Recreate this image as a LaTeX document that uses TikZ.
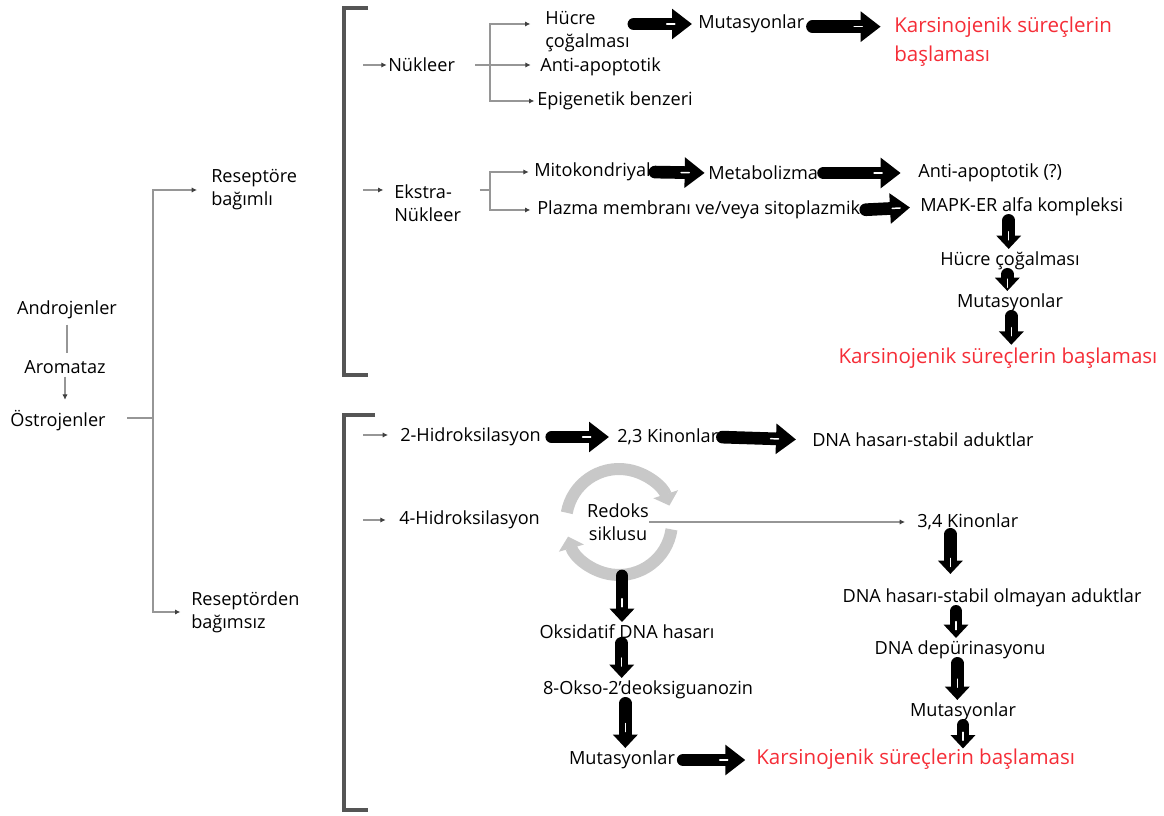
\documentclass[tikz,border=0pt]{standalone}
\usepackage{fontspec}
\setmainfont{Open Sans}
\usetikzlibrary{arrows.meta,calc,decorations.markings}
\definecolor{redtxt}{RGB}{245,45,55}
\definecolor{treeg}{RGB}{150,150,150}
\definecolor{brk}{RGB}{85,85,85}
\definecolor{ringg}{RGB}{200,200,200}
\begin{document}
\begin{tikzpicture}[x=0.75pt,y=-0.75pt,
  txt/.style={font=\fontsize{13.6}{17.25}\selectfont, inner sep=0pt, align=left},
  ctxt/.style={txt, align=center},
  red/.style={txt, text=redtxt, font=\fontsize{15.4}{21.75}\selectfont},
  tree/.style={draw=treeg, line width=1.5pt},
  tarrow/.style={tree, -{Latex[length=4pt,width=4pt,color=black!75]}},
  brk/.style={draw=brk, line width=2.4pt},
  wmark/.style={postaction={decorate, decoration={markings, mark=at position #1 with {\draw[white, line width=1.1pt, -, shorten <=0pt, shorten >=0pt] (-3pt,0) -- (3pt,0);}}}},
  hbarrow/.style={draw=black, line width=9.5pt, line cap=round, -{Triangle[length=15pt,width=22pt]},
     shorten <=3pt, shorten >=2pt, wmark=0.6},
  vbarrow/.style={draw=black, line width=9.5pt, line cap=round, -{Triangle[length=10pt,width=18pt]},
     shorten <=3pt, shorten >=2pt, wmark=0.55},
  ring/.style={draw=ringg, line width=9pt, -{Triangle[length=9pt,width=19pt]}}
]
\useasboundingbox (0,0) rectangle (1164,816);

% left part
\node[ctxt] (andro) at (67,310) {Androjenler};
\node[ctxt] (aroma) at (65,367) {Aromataz};
\node[ctxt] (ostro) at (58,421) {Östrojenler};
\draw[tree, shorten <=4pt, shorten >=5pt] (andro.south) -- (andro.south |- aroma.north);
\draw[tarrow, shorten <=2pt, shorten >=8pt] (aroma.south) -- (aroma.south |- ostro.north);
\coordinate (j0) at (153,418);
\draw[tree, shorten <=16pt] (ostro.east |- j0) -- (j0);

\node[txt, anchor=west] (rb) at (211,190) {Reseptöre\\bağımlı};
\node[txt, anchor=west] (rbz) at (191,612) {Reseptörden\\bağımsız};
\draw[tarrow, shorten >=10.5pt] (j0) |- (rb.west);
\draw[tarrow, shorten >=8pt] (j0) |- (rbz.west);

% brackets
\draw[brk] (368,8) -- (344,8) -- (344,375) -- (368,375);
\draw[brk] (375,415) -- (344,415) -- (344,810) -- (368,810);

% ===== upper block =====
\node[txt, anchor=west] (nuk) at (388,65) {Nükleer};
\coordinate (sN) at (363,65);
\draw[tarrow, shorten >=1pt] (sN) -- (nuk.west);
\coordinate (jN) at (490,65);
\node[txt, anchor=west] (hc1) at (545,32) {Hücre\\çoğalması};
\node[txt, anchor=west] (anti1) at (540,67) {Anti-apoptotik};
\node[txt, anchor=west] (epi) at (537,101) {Epigenetik benzeri};
\draw[tree, shorten <=15pt] (nuk.east) -- (jN);
\draw[tarrow, shorten >=11pt] (jN) |- ([yshift=6pt]hc1.west);
\draw[tarrow, shorten >=7pt] (jN) -- (anti1.west |- jN);
\draw[tarrow, shorten >=2pt] (jN) |- (epi.west);

\node[txt, anchor=west] (mut1) at (698,24) {Mutasyonlar};
\node[red, anchor=west] (karc1) at (894,42) {Karsinojenik süreçlerin\\başlaması};
\draw[hbarrow, shorten <=3pt, shorten >=4.5pt] (hc1.east |- mut1.west) -- (mut1.west);
\draw[hbarrow, shorten <=6pt, shorten >=10pt] ([yshift=-2pt]mut1.east) -- ([yshift=-2pt]karc1.west |- mut1.east);

\node[txt, anchor=west] (ekst) at (394,203) {Ekstra-\\Nükleer};
\coordinate (sE) at (363,190);
\draw[tarrow, shorten >=8pt] (sE) -- (ekst.west |- sE);
\coordinate (jE) at (490,190);
\draw[tree, shorten <=14pt] (ekst.east |- jE) -- (jE);
\node[txt, anchor=west] (mito) at (534,172) {Mitokondriyal};
\node[txt, anchor=west] (plaz) at (537,210) {Plazma membranı ve/veya sitoplazmik};
\draw[tarrow, shorten >=4pt] (jE) |- (mito.west);
\draw[tarrow, shorten >=5pt] (jE) |- (plaz.west);

\node[txt, anchor=west] (meta) at (708,173) {Metabolizma};
\node[txt, anchor=west] (anti2) at (918,173) {Anti-apoptotik (?)};
\node[txt, anchor=west] (mapk) at (920,207) {MAPK-ER alfa kompleksi};
\draw[hbarrow, shorten <=3pt, shorten >=2.5pt] (mito.east) -- (meta.west);
\draw[hbarrow, shorten <=4pt, shorten >=13pt] (meta.east) -- (anti2.west);
\draw[hbarrow, shorten <=4pt, shorten >=7.5pt] (plaz.east) -- (mapk.west);

\node[ctxt] (hc2) at (1010,261) {Hücre çoğalması};
\node[ctxt] (mut2) at (1010,303) {Mutasyonlar};
\node[red, align=center] (karc2) at (998,358) {Karsinojenik süreçlerin başlaması};
\draw[vbarrow] ([xshift=-1pt]hc2.north |- mapk.south) -- ([xshift=-1pt]hc2.north);
\draw[vbarrow] ([xshift=-2pt]mut2.north |- hc2.south) -- ([xshift=-2pt]mut2.north);
\draw[vbarrow] ([xshift=10pt]karc2.north |- mut2.south) -- ([xshift=10pt]karc2.north);

% ===== lower block =====
\node[txt, anchor=west] (h2) at (400,437) {2-Hidroksilasyon};
\coordinate (s2) at (363,435);
\draw[tarrow, shorten >=9pt] (s2) -- (h2.west |- s2);
\node[txt, anchor=west] (k23) at (617,437) {2,3 Kinonlar};
\node[txt, anchor=west] (dna1) at (812,440) {DNA hasarı-stabil aduktlar};
\draw[hbarrow, shorten <=8pt, shorten >=6pt] (h2.east) -- (k23.west);
\draw[hbarrow, shorten <=3pt, shorten >=12pt] (k23.east) -- (dna1.west);

\node[txt, anchor=west] (h4) at (399,520) {4-Hidroksilasyon};
\coordinate (s4) at (363,520);
\draw[tarrow, shorten >=10pt] (s4) -- (h4.west);

\coordinate (rc) at (619,522);
\draw[ring] (rc) ++(-170:53) arc[start angle=-170, end angle=-18, radius=53];
\draw[ring] (rc) ++(8:53) arc[start angle=8, end angle=164, radius=53];
\node[ctxt] (redoks) at (618,522) {Redoks\\siklusu};
\node[txt, anchor=west] (k34) at (917,522) {3,4 Kinonlar};
\draw[tarrow, shorten <=0pt, shorten >=9pt] (redoks.east |- k34.west) -- (k34.west);

\node[ctxt] (dna2) at (992,598) {DNA hasarı-stabil olmayan aduktlar};
\node[ctxt] (dep) at (960,650) {DNA depürinasyonu};
\node[ctxt] (mut3) at (963,712) {Mutasyonlar};
\node[red, anchor=west] (karc3) at (756,759) {Karsinojenik süreçlerin başlaması};
\draw[vbarrow, shorten >=11pt] ([xshift=-13pt]k34.south) -- ([xshift=-13pt]k34.south |- dna2.north);
\draw[vbarrow] ([xshift=-27pt]dna2.south) -- ([xshift=-27pt]dna2.south |- dep.north);
\draw[vbarrow] ([xshift=-2pt]dep.south) -- ([xshift=-2pt]dep.south |- mut3.north);
\draw[vbarrow, shorten >=0pt] (mut3.south) -- (mut3.south |- karc3.north);

\node[ctxt] (oks) at (627,632) {Oksidatif DNA hasarı};
\node[ctxt] (okso) at (648,690) {8-Okso-2'deoksiguanozin};
\node[ctxt] (mut4) at (622,760) {Mutasyonlar};
\coordinate (rb0) at (622,576);
\draw[vbarrow, shorten <=0pt] (rb0) -- (rb0 |- oks.north);
\draw[vbarrow] ([xshift=-4pt]oks.south) -- ([xshift=-4pt]oks.south |- okso.north);
\draw[vbarrow] ([xshift=-17pt]okso.south) -- ([xshift=-17pt]okso.south |- mut4.north);
\draw[hbarrow, shorten <=6pt, shorten >=8pt] (mut4.east) -- (karc3.west |- mut4.east);
\end{tikzpicture}
\end{document}
